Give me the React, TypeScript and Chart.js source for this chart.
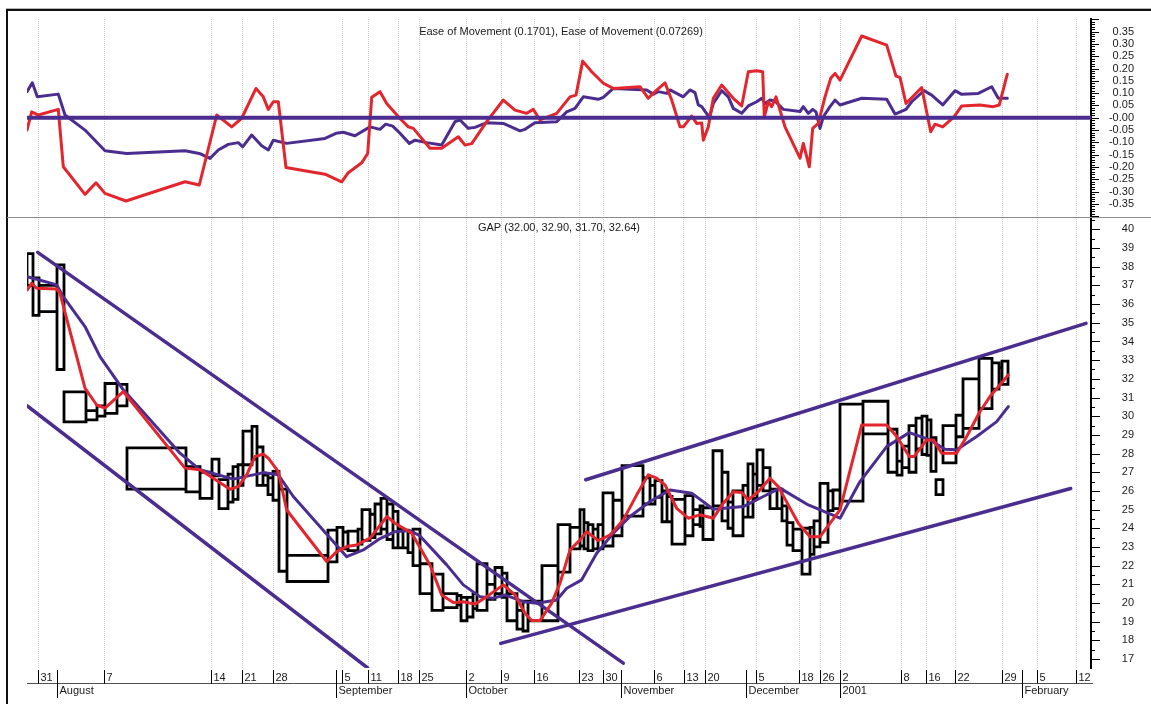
import React, { useEffect, useRef } from 'react';
import { Chart, registerables } from 'chart.js';

Chart.register(...registerables);

const RED = '#e3262e';
const PURPLE = '#4b2d8f';

// ---- Equivolume boxes (width = volume, top = high, bottom = low) ----
const boxVolumes = [
  6, 6, 18, 7, 22, 11, 8, 12, 10, 59,
  14, 12, 7, 9, 5, 5, 5, 9, 5, 6,
  5, 5, 6, 8, 41, 9, 6, 5, 10, 4,
  8, 5, 6, 6, 6, 5, 5, 5, 5, 7,
  12, 11, 14, 4, 6, 6, 4, 10, 8, 7,
  5, 10, 6, 5, 14, 16, 12, 10, 4, 4,
  5, 5, 5, 10, 9, 21, 7, 5, 7, 5,
  5, 13, 8, 7, 3, 10, 9, 6, 5, 10,
  5, 5, 4, 6, 7, 7, 5, 5, 6, 9,
  8, 4, 6, 8, 5, 7, 23, 25, 9, 5,
  7, 7, 6, 5, 4, 5, 7, 13, 7, 16,
  13, 7, 3, 6,
];
const boxHighs = [
  38.7, 37.4, 37.0, 38.1, 31.3, 30.3, 30.55, 31.75, 31.7, 28.3,
  27.3, 27.0, 27.7, 26.6, 26.9, 27.3, 27.4, 29.2, 29.45, 28.35,
  26.85, 26.7, 27.05, 26.1, 22.55, 23.9, 24.05, 23.8, 23.85, 23.95,
  25.0, 24.75, 25.3, 25.6, 25.3, 24.9, 23.95, 23.9, 23.8, 23.95,
  22.1, 21.55, 20.5, 20.4, 20.3, 20.3, 20.5, 22.1, 21.0, 21.9,
  21.6, 20.5, 19.6, 20.1, 20.1, 22.0, 24.2, 24.05, 25.0, 24.3,
  24.2, 23.95, 24.2, 25.9, 25.5, 27.35, 26.7, 26.3, 26.55, 26.0,
  25.7, 25.55, 25.75, 25.0, 25.2, 25.1, 28.15, 27.0, 25.4, 26.0,
  26.3, 27.45, 26.9, 28.2, 27.25, 26.1, 26.1, 25.2, 24.3, 23.95,
  24.0, 24.05, 24.4, 26.4, 26.0, 26.05, 30.65, 30.8, 29.3, 27.6,
  28.4, 29.5, 29.9, 30.0, 29.8, 28.85, 26.6, 29.5, 30.05, 32.0,
  33.1, 32.85, 32.6, 32.95,
];
const boxLows = [
  37.0, 35.4, 35.6, 32.5, 29.7, 29.8, 30.0, 30.15, 30.55, 26.1,
  25.95, 25.6, 26.8, 25.05, 25.4, 25.55, 26.3, 27.4, 27.7, 26.3,
  26.3, 25.8, 25.5, 21.7, 21.15, 22.2, 22.9, 22.9, 22.8, 23.15,
  23.35, 23.5, 23.7, 23.95, 23.4, 22.95, 22.95, 22.95, 22.7, 22.0,
  20.5, 19.6, 19.75, 19.9, 19.05, 19.25, 19.7, 19.6, 20.2, 20.5,
  20.3, 19.05, 18.6, 18.5, 19.05, 19.05, 21.65, 22.9, 23.05, 22.9,
  22.8, 22.9, 22.9, 23.05, 23.6, 24.65, 25.3, 25.3, 25.65, 24.35,
  24.35, 23.15, 23.6, 24.2, 24.1, 23.4, 25.2, 24.4, 24.0, 23.6,
  24.6, 24.6, 25.6, 26.3, 26.0, 25.05, 25.05, 24.4, 23.1, 22.8,
  21.55, 22.6, 23.0, 23.25, 24.95, 25.05, 25.45, 29.05, 27.0, 26.85,
  27.25, 27.0, 28.25, 27.95, 27.9, 27.05, 25.8, 27.5, 28.9, 29.35,
  30.4, 31.45, 31.7, 31.7,
];

// ---- Moving averages on price panel: [cumulative volume, price] ----
const maFast = [
  [0.3, 36.76], [4.7, 37.12], [9.7, 36.85], [29.7, 36.81], [33, 36.58], [58, 31.5], [69.7, 30.6],
  [78, 30.43], [96.3, 31.32], [158, 27.22], [173, 27.13], [186.3, 26.68], [203, 26.09],
  [211.3, 26.23], [219.7, 26.86], [228, 27.84], [236.3, 27.97], [241.3, 27.75], [251.3, 27.03],
  [259.7, 24.98], [299.7, 22.22], [309.7, 22.75], [319.7, 23.02], [329.7, 23.11], [343, 23.47],
  [360, 24.63], [368, 24.27], [384.7, 23.74], [403, 22.04], [414.7, 20.43], [426.3, 20.02],
  [436.3, 20.07], [448, 19.94], [459.7, 20.34], [476.3, 20.97], [488, 20.43], [498, 19.45],
  [504.7, 19.06], [513, 19.06], [524.7, 19.99], [533, 21.06], [543, 22.84], [553, 23.38],
  [559.7, 23.82], [571.3, 23.34], [583, 23.64], [596.3, 24.45], [609.7, 25.79], [621.3, 26.86],
  [629.7, 26.68], [638, 26.32], [649.7, 25.07], [661.3, 24.54], [673, 24.72], [686.3, 24.54],
  [696.3, 25.34], [706.3, 25.96], [714.7, 25.91], [721.3, 25.52], [731.3, 25.96], [743, 26.68],
  [751.3, 26.23], [771.3, 24.27], [783, 23.55], [793, 23.55], [813, 24.98], [834.7, 29.53],
  [859.7, 29.53], [869.7, 28.91], [882.3, 27.84], [887, 27.84], [899.7, 28.73], [906.3, 28.73],
  [914.7, 28.02], [929.7, 28.02], [939.7, 28.91], [953, 30.25], [963, 31.05], [971.3, 31.58],
  [981.3, 32.21],
];
const maSlow = [
  [0.3, 37.47], [9.7, 37.33], [29.7, 37.03], [36.3, 36.4], [58, 34.8], [73, 33.19], [96.3, 31.41],
  [153, 28.02], [173, 27.13], [206.3, 26.63], [226.3, 26.86], [236.3, 26.98], [251.3, 26.86],
  [266.3, 25.7], [319.7, 22.48], [336.3, 22.84], [353, 23.45], [368, 23.82], [383, 23.88],
  [393, 23.59], [419.7, 22.04], [436.3, 20.97], [453, 20.34], [466.3, 20.26], [478, 20.43],
  [496.3, 20.07], [509.7, 19.99], [529.7, 20.16], [539.7, 20.79], [554.7, 21.24], [569.7, 22.66],
  [586.3, 23.74], [603, 24.63], [623, 25.43], [643, 26.05], [664.7, 25.88], [686.3, 25.02],
  [716.3, 25.16], [736.3, 25.7], [753, 26.15], [781.3, 25.25], [813, 24.54], [833, 26.5],
  [859.7, 28.37], [882.3, 29.12], [903, 28.73], [918, 28.23], [929.7, 28.2], [949.7, 28.91],
  [969.7, 29.71], [981.3, 30.51],
];

// ---- Trend lines: [cumulative volume, price] ----
const trendUpperDown = [[10.7, 38.77], [596.3, 16.78]];
const trendLowerDown = [[0.3, 30.55], [340.7, 16.52]];
const trendLowerUp = [[473.7, 17.84], [1043.7, 26.13]];
const trendUpperUp = [[558.7, 26.6], [1059, 34.97]];

// ---- Ease of Movement panel: [cumulative volume, value] ----
const eomFast = [
  [0, -0.05], [4.7, 0.024], [11.3, 0.011], [31.3, 0.034], [36.3, -0.199], [58, -0.311], [69, -0.264],
  [78, -0.307], [99, -0.338], [158, -0.26], [172.3, -0.273], [189.7, 0.011], [204.7, -0.037],
  [214.7, -0.002], [229, 0.119], [236.3, 0.085], [241.3, 0.034], [246.3, 0.065], [251.3, 0.065],
  [259, -0.202], [298, -0.229], [314.7, -0.26], [321.3, -0.223], [334.7, -0.183], [340.7, -0.145],
  [344.7, 0.083], [353, 0.106], [359.7, 0.058], [373, -0.003], [381.3, -0.037], [386.3, -0.043],
  [403, -0.124], [414.7, -0.124], [431.3, -0.077], [438, -0.111], [444.7, -0.105], [459.7, -0.016],
  [476.3, 0.072], [488, 0.031], [499.7, 0.018], [506.3, 0.034], [513, -0.009], [529.7, 0.018],
  [543, 0.085], [549, 0.092], [555.7, 0.23], [564.7, 0.187], [576.3, 0.14], [586.3, 0.119],
  [613, 0.126], [621.3, 0.079], [628, 0.106], [638, 0.142], [644.7, 0.072], [653, -0.037],
  [656.3, -0.037], [664.7, 0.007], [669.7, -0.023], [674.7, -0.021], [676.3, -0.091], [681.3, -0.037],
  [686.3, 0.079], [694.7, 0.133], [706.3, 0.079], [714.7, 0.048], [721.3, 0.187], [729.7, 0.191],
  [735.7, 0.187], [737.3, 0.004], [741.3, 0.065], [744.7, 0.045], [749, 0.085], [758, -0.037],
  [773, -0.164], [776.3, -0.104], [782.3, -0.199], [785.7, -0.043], [791.3, -0.023], [798, 0.085],
  [803.7, 0.16], [808, 0.18], [813, 0.153], [834.7, 0.332], [859.7, 0.295], [869, 0.169],
  [873, 0.164], [879, 0.058], [894.7, 0.123], [903.7, -0.057], [908, -0.026], [915.7, -0.037],
  [927, 0.004], [934.7, 0.048], [953, 0.052], [966.3, 0.045], [972.3, 0.052], [980.3, 0.177],
];
const eomSlow = [
  [0, 0.106], [5.3, 0.142], [10.3, 0.085], [31.3, 0.096], [38, 0.011], [58, -0.05], [78, -0.134],
  [99.7, -0.145], [158, -0.134], [172.3, -0.145], [183, -0.165], [191.3, -0.131], [201.3, -0.108],
  [211.3, -0.101], [215.7, -0.118], [224.7, -0.07], [234.7, -0.114], [241.3, -0.131], [246.3, -0.091],
  [259.7, -0.104], [298, -0.084], [309, -0.063], [316.3, -0.059], [328, -0.073], [343, -0.037],
  [353, -0.047], [358.7, -0.026], [365.7, -0.034], [373, -0.063], [382.3, -0.104], [388, -0.091],
  [399.7, -0.101], [414.7, -0.111], [428, -0.016], [433, -0.009], [441.3, -0.043], [448, -0.039],
  [459.7, -0.02], [476.3, -0.023], [493, -0.053], [498, -0.047], [508, -0.02], [529.7, -0.016],
  [539.7, 0.024], [548, 0.038], [556.3, 0.085], [571.3, 0.075], [576.3, 0.083], [586.3, 0.119],
  [619.7, 0.113], [626.3, 0.096], [631.3, 0.106], [639.7, 0.099], [643, 0.113], [656.3, 0.085],
  [663, 0.113], [668, 0.102], [671.3, 0.052], [674.7, 0.045], [682.3, 0.002], [686.3, 0.058],
  [694.7, 0.11], [701.3, 0.085], [706.3, 0.038], [714.7, 0.018], [721.3, 0.048], [729.7, 0.065],
  [734.7, 0.079], [738, 0.058], [743, 0.072], [748, 0.068], [756.3, 0.034], [773, 0.025],
  [776.3, 0.045], [781.3, 0.018], [785.7, 0.034], [789, 0.024], [793, -0.043], [796.3, 0.004],
  [803, 0.045], [808, 0.072], [813, 0.052], [834.7, 0.079], [859.7, 0.075], [868, 0.015],
  [879, 0.034], [884.7, 0.065], [897, 0.11], [904.7, 0.092], [915.7, 0.052], [928, 0.11],
  [934.7, 0.095], [951.3, 0.099], [964.7, 0.126], [971.3, 0.079], [980.3, 0.079],
];
const eomZeroLine = [[0, 0], [1064, 0]];

// ---- Axis ticks and labels ----
const xMax = 1064;
const dayTickPositions = [11, 77, 184, 215, 246, 315, 341, 371, 392, 439, 474, 507, 552, 576, 627, 657, 678, 729, 772, 793, 813, 874, 899, 928, 975, 1010, 1049];
const dayTickLabels = ['31', '7', '14', '21', '28', '5', '11', '18', '25', '2', '9', '16', '23', '30', '6', '13', '20', '5', '18', '26', '2', '8', '16', '22', '29', '5', '12'];
const monthTickPositions = [30, 309, 439, 594, 719, 813, 995];
const monthTickLabels = ['August', 'September', 'October', 'November', 'December', '2001', 'February'];
const eomTickLabels = ['-0.35', '-0.30', '-0.25', '-0.20', '-0.15', '-0.10', '-0.05', '-0.00', '0.05', '0.10', '0.15', '0.20', '0.25', '0.30', '0.35'];
const priceTickLabels = ['17', '18', '19', '20', '21', '22', '23', '24', '25', '26', '27', '28', '29', '30', '31', '32', '33', '34', '35', '36', '37', '38', '39', '40'];
const eomTitle = 'Ease of Movement (0.1701), Ease of Movement (0.07269)';
const priceTitle = 'GAP (32.00, 32.90, 31.70, 32.64)';

const FONT = '"Liberation Sans", Arial, Helvetica, sans-serif';

const decorations = {
  id: 'decorations',
  afterDraw(chart: any) {
    const { ctx, chartArea, scales } = chart;
    const xs = scales.x;
    const ye = scales.yEom;
    const yp = scales.yPrice;
    ctx.save();
    // outer frame
    ctx.fillStyle = '#b4b4b4';
    ctx.fillRect(6, 8, 1145, 1);
    ctx.fillStyle = '#111';
    ctx.fillRect(6, 9, 1145, 2);
    ctx.fillRect(6, 9, 2, 695);
    // panel separator
    ctx.fillStyle = '#8c8c8c';
    ctx.fillRect(7, Math.round(ye.bottom) - 1, 1144, 1);

    // y tick marks
    const ax = Math.round(chartArea.right);
    ctx.strokeStyle = '#000';
    ctx.lineWidth = 1;
    ctx.beginPath();
    for (let i = -41; i <= 41; i++) {
      const v = i / 100;
      if (v < ye.min || v > ye.max) continue;
      const py = Math.round(ye.getPixelForValue(v)) + 0.5;
      const len = i % 5 === 0 ? 8 : 4;
      ctx.moveTo(ax, py);
      ctx.lineTo(ax + len, py);
    }
    for (let i = 30; i <= 84; i++) {
      const v = i / 2;
      if (v < yp.min || v > yp.max) continue;
      const py = Math.round(yp.getPixelForValue(v)) + 0.5;
      const len = i % 2 === 0 ? 9 : 4;
      ctx.moveTo(ax, py);
      ctx.lineTo(ax + len, py);
    }
    ctx.stroke();

    // x axis (dates)
    const b = chartArea.bottom;
    const axisY = Math.round(b + 15) + 0.5;
    ctx.strokeStyle = '#505050';
    ctx.beginPath();
    ctx.moveTo(chartArea.left, axisY);
    ctx.lineTo(chartArea.right + 2, axisY);
    ctx.stroke();
    ctx.strokeStyle = '#000';
    ctx.fillStyle = '#1a1a1a';
    ctx.font = '11px ' + FONT;
    ctx.textBaseline = 'middle';
    ctx.textAlign = 'left';
    dayTickPositions.forEach((v, i) => {
      const px = Math.round(xs.getPixelForValue(v)) + 0.5;
      ctx.beginPath();
      ctx.moveTo(px, b + 2);
      ctx.lineTo(px, axisY);
      ctx.stroke();
      ctx.fillText(dayTickLabels[i], px + 2, b + 10);
    });
    monthTickPositions.forEach((v, i) => {
      const px = Math.round(xs.getPixelForValue(v)) + 0.5;
      ctx.beginPath();
      ctx.moveTo(px, b + 2);
      ctx.lineTo(px, b + 30);
      ctx.stroke();
      ctx.fillText(monthTickLabels[i], px + 2, b + 23);
    });

    // panel titles
    ctx.textAlign = 'center';
    const cx = (chartArea.left + chartArea.right) / 2;
    ctx.fillText(eomTitle, cx + 2, ye.top + 13);
    ctx.fillText(priceTitle, cx, yp.top + 10);
    ctx.restore();
  },
};

export default function App() {
  const ref = useRef<HTMLCanvasElement>(null);

  useEffect(() => {
    const canvas = ref.current;
    if (!canvas) return;
    Chart.defaults.font.family = FONT;
    Chart.defaults.font.size = 11;
    Chart.defaults.color = '#1a1a1a';

    const boxPoints: any[] = [];
    let cum = 0;
    boxVolumes.forEach((v, i) => {
      const x0 = cum;
      const x1 = cum + v;
      cum = x1;
      const h = boxHighs[i];
      const l = boxLows[i];
      boxPoints.push({ x: x0, y: h }, { x: x1, y: h }, { x: x1, y: l }, { x: x0, y: l }, { x: x0, y: h }, { x: x1, y: null });
    });

    const toPts = (arr: number[][]) => arr.map(([x, y]) => ({ x, y }));
    const line = (label: string, data: any[], color: string, width: number, yAxisID: string) => ({
      type: 'line',
      label,
      data,
      borderColor: color,
      backgroundColor: color,
      borderWidth: width,
      pointRadius: 0,
      pointHoverRadius: 0,
      tension: 0,
      fill: false,
      spanGaps: false,
      xAxisID: 'x',
      yAxisID,
      borderJoinStyle: 'round',
      borderCapStyle: 'round',
    });

    const eomValues = eomTickLabels.map((s) => parseFloat(s));
    const priceValues = priceTickLabels.map((s) => parseFloat(s));
    const noPad = (s: any) => {
      s.width = 43;
      s.paddingTop = 0;
      s.paddingBottom = 0;
    };

    const chart = new Chart(canvas, {
      type: 'line',
      data: {
        datasets: [
          line('Zero', toPts(eomZeroLine), PURPLE, 4, 'yEom'),
          line('Ease of Movement (0.1701)', toPts(eomFast), RED, 3, 'yEom'),
          line('Ease of Movement (0.07269)', toPts(eomSlow), PURPLE, 3, 'yEom'),
          line('MA fast', toPts(maFast), RED, 3, 'yPrice'),
          line('MA slow', toPts(maSlow), PURPLE, 3, 'yPrice'),
          line('Trend 1', toPts(trendUpperDown), PURPLE, 3.5, 'yPrice'),
          line('Trend 2', toPts(trendLowerDown), PURPLE, 3.5, 'yPrice'),
          line('Trend 3', toPts(trendLowerUp), PURPLE, 3.5, 'yPrice'),
          line('Trend 4', toPts(trendUpperUp), PURPLE, 3.5, 'yPrice'),
          { ...line('GAP', boxPoints, '#000', 2.8, 'yPrice'), borderJoinStyle: 'miter', borderCapStyle: 'square' },
        ] as any,
      },
      options: {
        responsive: false,
        maintainAspectRatio: false,
        animation: false,
        devicePixelRatio: 1,
        events: [],
        layout: { padding: { left: 27, top: 19, right: 17, bottom: 0 } },
        plugins: {
          legend: { display: false },
          tooltip: { enabled: false },
          title: { display: false },
        },
        scales: {
          x: {
            type: 'linear',
            position: 'bottom',
            min: 0,
            max: xMax,
            grid: { display: true, color: '#cfcfcf', lineWidth: 1, drawTicks: false, drawOnChartArea: true },
            border: { display: false, dash: [1, 1] },
            ticks: { display: false, autoSkip: false },
            afterBuildTicks: (s: any) => {
              s.ticks = dayTickPositions.map((v) => ({ value: v }));
            },
            afterFit: (s: any) => {
              s.height = 36;
              s.paddingLeft = 0;
              s.paddingRight = 0;
            },
          },
          yEom: {
            type: 'linear',
            position: 'right',
            stack: 'panels',
            stackWeight: 199,
            min: -0.407,
            max: 0.401,
            grid: { display: false },
            border: { display: true, color: '#000', width: 2 },
            ticks: {
              autoSkip: false,
              padding: 18,
              crossAlign: 'far',
              font: { size: 11, family: FONT },
              callback: (_v: any, i: number) => eomTickLabels[i],
            },
            afterBuildTicks: (s: any) => {
              s.ticks = eomValues.map((v) => ({ value: v }));
            },
            afterFit: noPad,
          },
          yPrice: {
            type: 'linear',
            position: 'right',
            stack: 'panels',
            stackWeight: 450,
            min: 16.52,
            max: 40.61,
            grid: { display: false },
            border: { display: true, color: '#000', width: 2 },
            ticks: {
              autoSkip: false,
              padding: 31,
              crossAlign: 'far',
              font: { size: 11, family: FONT },
              callback: (_v: any, i: number) => priceTickLabels[i],
            },
            afterBuildTicks: (s: any) => {
              s.ticks = priceValues.map((v) => ({ value: v }));
            },
            afterFit: noPad,
          },
        },
      } as any,
      plugins: [decorations],
    });
    return () => chart.destroy();
  }, []);

  return (
    <div style={{ position: 'fixed', left: 0, top: 0, width: 1151, height: 704, background: '#fff' }}>
      <canvas ref={ref} width={1151} height={704} style={{ display: 'block', width: 1151, height: 704 }} />
    </div>
  );
}
